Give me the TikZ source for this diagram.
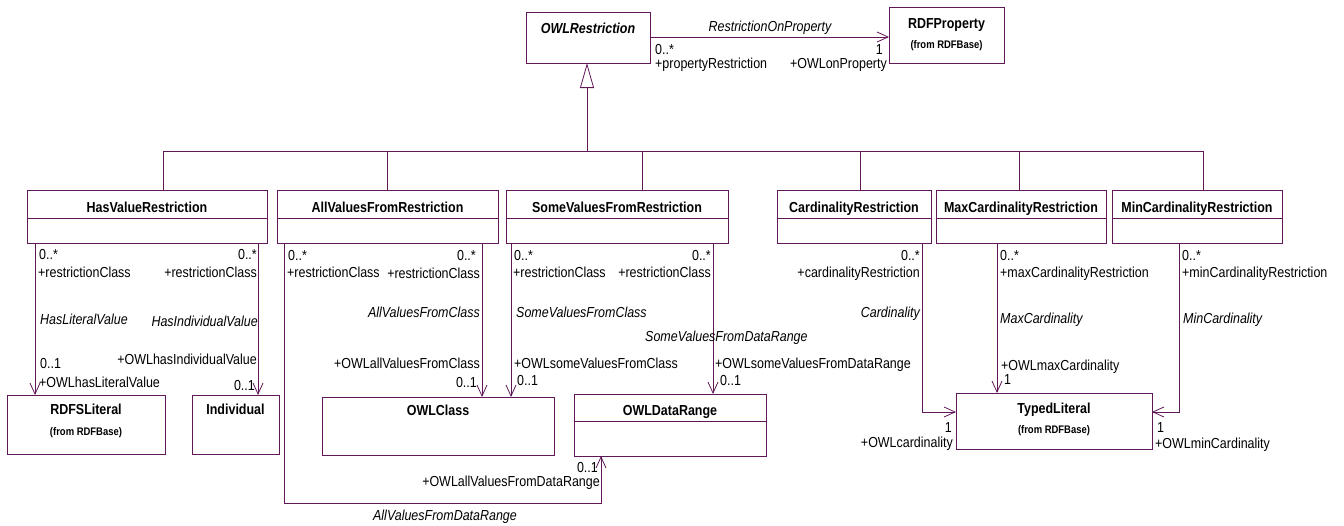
\documentclass[tikz,border=0pt]{standalone}
\usepackage{fontspec}
\setmainfont{Liberation Sans}[FakeStretch=0.86]
\usetikzlibrary{arrows.meta,calc}
\definecolor{umlc}{RGB}{96,24,88}
\begin{document}
\begin{tikzpicture}[x=1pt,y=-1pt,
  cls/.style={draw=umlc,line width=0.9pt,fill=white,anchor=north west,inner sep=0pt,outer sep=0pt},
  ttl/.style={font=\fontsize{14.5}{15}\selectfont\bfseries,anchor=base,inner sep=0pt},
  ttli/.style={font=\fontsize{14.5}{15}\selectfont\bfseries\itshape,anchor=base,inner sep=0pt},
  subt/.style={font=\fontsize{11}{12}\selectfont\bfseries,anchor=base,inner sep=0pt},
  lw/.style={font=\fontsize{14.5}{15}\selectfont,anchor=base west,inner sep=0pt},
  le/.style={font=\fontsize{14.5}{15}\selectfont,anchor=base east,inner sep=0pt},
  nw/.style={font=\fontsize{14.5}{15}\selectfont\itshape,anchor=base west,inner sep=0pt},
  ne/.style={font=\fontsize{14.5}{15}\selectfont\itshape,anchor=base east,inner sep=0pt},
  nc/.style={font=\fontsize{14.5}{15}\selectfont\itshape,anchor=base,inner sep=0pt},
  divl/.style={draw=umlc,line width=0.9pt},
  assoc/.style={draw=umlc,line width=0.8pt,-{Straight Barb[length=11pt,width=10pt]}},
  gen/.style={draw=umlc,line width=0.8pt},
]
\useasboundingbox (0,0) rectangle (1344,525);

% ---------- classes ----------
\node[cls,minimum width=124pt,minimum height=51pt] (owlr) at (526,12) {};
\node[ttli] (owlr-t) at ($(owlr.north)+(0,21)$) {OWLRestriction};

\node[cls,minimum width=115pt,minimum height=56pt] (rdfp) at (889,7) {};
\node[ttl] (rdfp-t) at ($(rdfp.north)+(0,21)$) {RDFProperty};
\node[subt] (rdfp-s) at ($(rdfp.north)+(0,41)$) {(from RDFBase)};

\node[cls,minimum width=240pt,minimum height=53pt] (hvr) at (27,190) {};
\node[cls,minimum width=221pt,minimum height=53pt] (avr) at (277,190) {};
\node[cls,minimum width=222pt,minimum height=53pt] (svr) at (506,190) {};
\node[cls,minimum width=154pt,minimum height=53pt] (cr) at (777,190) {};
\node[cls,minimum width=170pt,minimum height=53pt] (maxr) at (936,190) {};
\node[cls,minimum width=170pt,minimum height=53pt] (minr) at (1112,190) {};
\foreach \n/\t in {hvr/HasValueRestriction,avr/AllValuesFromRestriction,svr/SomeValuesFromRestriction,cr/CardinalityRestriction,maxr/MaxCardinalityRestriction,minr/MinCardinalityRestriction}{
  \node[ttl] (\n-t) at ($(\n.north)+(0,22)$) {\t};
  \draw[divl] ($(\n.north west)+(0,28)$) -- ($(\n.north east)+(0,28)$);
}

\node[cls,minimum width=158pt,minimum height=59pt] (rdfsl) at (7,395) {};
\node[ttl] (rdfsl-t) at ($(rdfsl.north)+(0,19)$) {RDFSLiteral};
\node[subt] (rdfsl-s) at ($(rdfsl.north)+(0,40)$) {(from RDFBase)};

\node[cls,minimum width=87pt,minimum height=59pt] (indiv) at (192,395) {};
\node[ttl] (indiv-t) at ($(indiv.north)+(0,19)$) {Individual};

\node[cls,minimum width=232pt,minimum height=58pt] (owlc) at (322,397) {};
\node[ttl] (owlc-t) at ($(owlc.north)+(0,18)$) {OWLClass};

\node[cls,minimum width=192pt,minimum height=62pt] (owldr) at (574,394) {};
\node[ttl] (owldr-t) at ($(owldr.north)+(0,21)$) {OWLDataRange};
\draw[divl] ($(owldr.north west)+(0,27)$) -- ($(owldr.north east)+(0,27)$);

\node[cls,minimum width=196pt,minimum height=56pt] (tl) at (956,393) {};
\node[ttl] (tl-t) at ($(tl.north)+(0,20)$) {TypedLiteral};
\node[subt] (tl-s) at ($(tl.north)+(0,40)$) {(from RDFBase)};

% ---------- generalization ----------
\coordinate (bus) at (587,151);
\draw[gen,-{Triangle[open,length=25pt,width=14pt]}] (bus) -- (bus |- owlr.south);
\draw[gen] (bus) -| (163,0 |- hvr.north);
\draw[gen] (bus) -| (387,0 |- avr.north);
\draw[gen] (bus) -| (642,0 |- svr.north);
\draw[gen] (bus) -| (860,0 |- cr.north);
\draw[gen] (bus) -| (1019,0 |- maxr.north);
\draw[gen] (bus) -| (1203,0 |- minr.north);

% ---------- RestrictionOnProperty ----------
\draw[assoc] (owlr.east |- 0,37) -- (rdfp.west |- 0,37);
\node[nc] (rop) at (770,31) {RestrictionOnProperty};
\node[lw] (rop-m1) at (655,54) {0..*};
\node[lw] (rop-r1) at (655,68) {+propertyRestriction};
\node[le] (rop-m2) at (883,54) {1};
\node[le] (rop-r2) at (887,68) {+OWLonProperty};

% ---------- HasLiteralValue ----------
\draw[assoc] (35,0 |- hvr.south) -- (35,0 |- rdfsl.north);
\node[lw] (hlv-m1) at (39,259) {0..*};
\node[lw] (hlv-r1) at (38,277) {+restrictionClass};
\node[nw] (hlv) at (40,324) {HasLiteralValue};
\node[lw] (hlv-m2) at (40,368) {0..1};
\node[lw] (hlv-r2) at (39,387) {+OWLhasLiteralValue};

% ---------- HasIndividualValue ----------
\draw[assoc] (258,0 |- hvr.south) -- (258,0 |- indiv.north);
\node[le] (hiv-m1) at (257,259) {0..*};
\node[le] (hiv-r1) at (257,277) {+restrictionClass};
\node[ne] (hiv) at (258,326) {HasIndividualValue};
\node[le] (hiv-r2) at (257,364) {+OWLhasIndividualValue};
\node[le] (hiv-m2) at (255,390) {0..1};

% ---------- AllValuesFromClass ----------
\draw[assoc] (482,0 |- avr.south) -- (482,0 |- owlc.north);
\node[le] (avc-m1) at (476,260) {0..*};
\node[le] (avc-r1) at (480,278) {+restrictionClass};
\node[ne] (avc) at (480,317) {AllValuesFromClass};
\node[le] (avc-r2) at (480,368) {+OWLallValuesFromClass};
\node[le] (avc-m2) at (477,387) {0..1};

% ---------- AllValuesFromDataRange ----------
\coordinate (avdr-c) at (601,503);
\draw[assoc] (284,0 |- avr.south) |- (avdr-c) -- (avdr-c |- owldr.south);
\node[lw] (avd-m1) at (288,260) {0..*};
\node[lw] (avd-r1) at (287,277) {+restrictionClass};
\node[le] (avd-m2) at (598,472) {0..1};
\node[le] (avd-r2) at (600,486) {+OWLallValuesFromDataRange};
\node[nc] (avd) at (445,520) {AllValuesFromDataRange};

% ---------- SomeValuesFromClass ----------
\draw[assoc] (511,0 |- svr.south) -- (511,0 |- owlc.north);
\node[lw] (svc-m1) at (514,260) {0..*};
\node[lw] (svc-r1) at (513,277) {+restrictionClass};
\node[nw] (svc) at (516,317) {SomeValuesFromClass};
\node[lw] (svc-r2) at (514,368) {+OWLsomeValuesFromClass};
\node[lw] (svc-m2) at (517,385) {0..1};

% ---------- SomeValuesFromDataRange ----------
\draw[assoc] (713,0 |- svr.south) -- (713,0 |- owldr.north);
\node[le] (svd-m1) at (711,260) {0..*};
\node[le] (svd-r1) at (711,277) {+restrictionClass};
\node[nw] (svd) at (645,341) {SomeValuesFromDataRange};
\node[lw] (svd-r2) at (715,368) {+OWLsomeValuesFromDataRange};
\node[lw] (svd-m2) at (720,385) {0..1};

% ---------- Cardinality ----------
\draw[assoc] (922,0 |- cr.south) |- (tl.west |- 0,412);
\node[le] (card-m1) at (920,260) {0..*};
\node[le] (card-r1) at (920,277) {+cardinalityRestriction};
\node[ne] (card) at (920,317) {Cardinality};
\node[le] (card-m2) at (952,432) {1};
\node[le] (card-r2) at (953,447) {+OWLcardinality};

% ---------- MaxCardinality ----------
\draw[assoc] (997,0 |- maxr.south) -- (997,0 |- tl.north);
\node[lw] (maxc-m1) at (1000,260) {0..*};
\node[lw] (maxc-r1) at (1000,277) {+maxCardinalityRestriction};
\node[nw] (maxc) at (1000,323) {MaxCardinality};
\node[lw] (maxc-r2) at (1001,370) {+OWLmaxCardinality};
\node[lw] (maxc-m2) at (1004,384) {1};

% ---------- MinCardinality ----------
\draw[assoc] (1179,0 |- minr.south) |- (tl.east |- 0,412);
\node[lw] (minc-m1) at (1182,260) {0..*};
\node[lw] (minc-r1) at (1182,277) {+minCardinalityRestriction};
\node[nw] (minc) at (1183,323) {MinCardinality};
\node[lw] (minc-m2) at (1157,432) {1};
\node[lw] (minc-r2) at (1155,448) {+OWLminCardinality};
\end{tikzpicture}
\end{document}
